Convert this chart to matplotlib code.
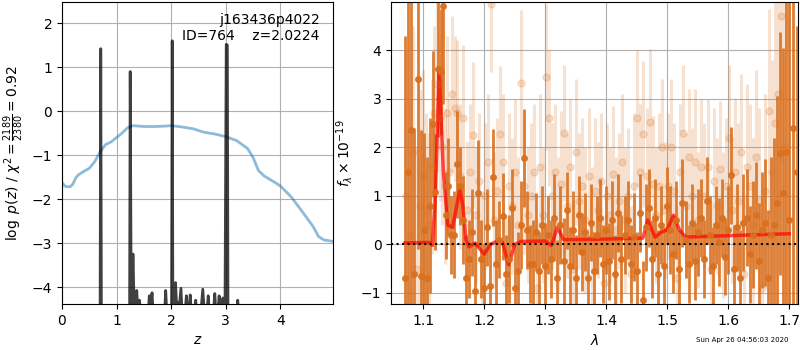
import numpy as np
import matplotlib
matplotlib.use('Agg')
import matplotlib.pyplot as plt

# ---- datos p(z) ----
z_chi2 = [0.0, 0.05, 0.1, 0.15, 0.2, 0.25, 0.3, 0.4, 0.5, 0.6, 0.7, 0.8, 0.9, 1.0, 1.1, 1.2,
          1.3, 1.5, 1.7, 1.9, 2.0, 2.2, 2.4, 2.6, 2.8, 3.0, 3.2, 3.4, 3.5, 3.6, 3.7,
          3.9, 4.0, 4.2, 4.4, 4.6, 4.7, 4.8, 4.95]
logchi2 = [-1.62, -1.70, -1.72, -1.72, -1.66, -1.52, -1.45, -1.37, -1.30, -1.15, -0.92, -0.76,
           -0.70, -0.60, -0.50, -0.38, -0.33, -0.35, -0.35, -0.34, -0.33, -0.36, -0.40, -0.48,
           -0.52, -0.58, -0.67, -0.85, -1.05, -1.35, -1.47, -1.62, -1.70, -1.95, -2.28, -2.62,
           -2.85, -2.93, -2.96]

z_pz = [0.0, 0.69, 0.71, 0.73, 1.23, 1.25, 1.27, 1.285, 1.30, 1.32, 1.34, 1.37, 1.39, 1.42, 1.44,
        1.58, 1.60, 1.63, 1.65, 1.67, 1.88, 1.90, 1.92, 2.00, 2.02, 2.04, 2.06, 2.08, 2.10, 2.12,
        2.14, 2.18, 2.20, 2.26, 2.28, 2.30, 2.33, 2.35, 2.37, 2.43, 2.45, 2.47, 2.55, 2.58, 2.61,
        2.66, 2.68, 2.70, 2.78, 2.80, 2.82, 2.86, 2.88, 2.90, 2.93, 2.95, 2.97, 3.01, 3.03, 3.05,
        3.20, 3.22, 3.24, 3.26, 4.95]
logpz = [-9, -9, 1.42, -9, -9, 0.90, -5.0, -4.3, -3.25, -4.3, -4.6, -4.08, -4.6, -4.3, -4.6,
         -4.6, -4.2, -4.4, -4.13, -4.6, -4.6, -4.08, -4.6, -9, 1.60, -9, -4.4, -3.9, -4.4, -4.35,
         -4.6, -4.03, -4.6, -4.5, -4.2, -4.6, -4.5, -4.18, -4.6, -4.5, -4.3, -4.6, -4.5, -4.05, -4.6,
         -4.5, -4.2, -4.6, -4.5, -4.15, -4.6, -4.5, -4.2, -4.6, -4.5, -4.25, -9, 1.52, 1.50, -9,
         -4.6, -4.3, -4.6, -9, -9]

# ---- espectro (puntos oscuros) ----
wave_a = [1.070, 1.075, 1.080, 1.085, 1.091, 1.096, 1.101, 1.106, 1.111, 1.116, 1.120, 1.125,
          1.129, 1.133, 1.137, 1.141, 1.145, 1.150, 1.155, 1.160, 1.165, 1.170, 1.175, 1.180,
          1.185, 1.190, 1.195, 1.200, 1.205, 1.210, 1.215, 1.220, 1.225, 1.230, 1.235, 1.240,
          1.245, 1.250, 1.255, 1.260, 1.265, 1.270, 1.275, 1.280, 1.285, 1.290, 1.295, 1.300,
          1.305, 1.310, 1.315, 1.320, 1.325, 1.330, 1.335, 1.340, 1.345, 1.350, 1.355, 1.360,
          1.365, 1.370, 1.375, 1.380, 1.385, 1.390, 1.395, 1.400, 1.405, 1.410, 1.415, 1.420,
          1.425, 1.430, 1.435, 1.440, 1.445, 1.450, 1.455, 1.460, 1.465, 1.470, 1.475, 1.480,
          1.485, 1.490, 1.495, 1.500, 1.505, 1.510, 1.515, 1.520, 1.525, 1.530, 1.535, 1.540,
          1.545, 1.550, 1.555, 1.560, 1.565, 1.570, 1.575, 1.580, 1.585, 1.590, 1.595, 1.600,
          1.605, 1.610, 1.615, 1.620, 1.625, 1.630, 1.635, 1.640, 1.645, 1.650, 1.655, 1.660,
          1.665, 1.670, 1.675, 1.680, 1.685, 1.690, 1.695, 1.700, 1.706, 1.712]
flux_a = [-0.70, 1.50, 2.35, -0.60, 3.40, -0.65, 0.30, -0.70, 0.80, 2.48, 1.08, 3.62,
          3.55, 4.90, 0.60, 1.20, 0.20, 0.20, 1.65, 1.20, 0.50, -0.70, -0.30, 0.25,
          -0.95, 1.05, -0.30, -0.90, 0.35, -0.85, 1.38, -0.40, 0.10, 0.58, -0.60, -0.30,
          0.75, -0.90, -0.55, 0.40, 1.78, 0.30, -0.40, -0.40, 0.25, -0.55, 0.40, -0.45,
          0.20, -0.30, 0.55, -0.70, 0.40, -0.35, 0.70, -0.45, 0.30, -0.70, 0.60, -0.15,
          0.25, -0.70, 0.45, -0.55, 0.20, 0.55, -0.40, 0.30, -0.35, 0.50, -0.60, 0.65,
          -0.30, 0.20, 0.50, -0.40, 0.15, -0.55, 0.65, -1.15, 0.35, 0.75, -0.30, 0.55,
          -0.60, 0.40, -0.45, 0.80, 0.30, -0.20, 0.50, -0.50, 0.85, 0.10, -0.40, 0.45,
          -0.35, 0.25, 0.55, -0.30, 0.90, 0.20, -0.45, 0.40, 0.05, 0.55, -0.25, 0.30,
          1.42, -0.50, 0.35, -0.70, 0.45, 0.55, -0.20, 0.20, 0.60, -0.35, 0.30, 0.45,
          -0.70, 0.20, 0.40, 0.85, 1.88, 1.05, 1.90, 0.50, 2.40, 1.50]
err_a = [5.0, 4.5, 4.0, 3.0, 3.5, 3.0, 2.0, 2.5, 1.8, 1.5, 1.2, 1.4,
         1.3, 2.0, 0.9, 1.0, 0.8, 0.9, 1.1, 0.8, 0.9, 0.9, 0.8, 0.9,
         1.0, 1.1, 0.8, 0.9, 0.8, 0.9, 1.0, 0.9, 0.8, 0.9, 0.8, 0.9,
         0.8, 0.9, 0.8, 0.9, 1.0, 0.8, 0.8, 0.9, 0.8, 0.8, 0.8, 0.9,
         0.8, 0.8, 0.9, 0.8, 0.8, 0.9, 0.8, 0.8, 0.8, 0.9, 0.8, 0.8,
         0.8, 0.9, 0.8, 0.8, 0.8, 0.8, 0.8, 0.9, 0.8, 0.8, 0.8, 0.8,
         0.9, 0.8, 0.8, 0.8, 0.9, 0.8, 0.8, 0.8, 0.9, 0.8, 0.8, 0.8,
         0.9, 0.8, 0.8, 0.8, 0.9, 0.8, 0.8, 0.8, 0.9, 0.8, 0.8, 0.8,
         0.8, 0.9, 0.8, 0.8, 0.9, 0.8, 0.8, 0.8, 0.9, 0.8, 0.8, 0.9,
         1.0, 0.9, 0.9, 1.0, 1.0, 1.0, 1.0, 1.1, 1.1, 1.2, 1.2, 1.3,
         1.4, 1.6, 1.8, 2.2, 2.5, 3.0, 3.5, 5.0, 4.0, 3.0]

# ---- espectro (puntos claros) ----
wave_b = [1.072, 1.078, 1.083, 1.089, 1.094, 1.099, 1.104, 1.109, 1.114, 1.118, 1.123, 1.127,
          1.131, 1.135, 1.139, 1.143, 1.147, 1.152, 1.156, 1.161, 1.166, 1.171, 1.176, 1.181,
          1.186, 1.191, 1.196, 1.201, 1.206, 1.211, 1.216, 1.221, 1.226, 1.231, 1.236, 1.241,
          1.246, 1.251, 1.256, 1.261, 1.266, 1.271, 1.276, 1.281, 1.286, 1.291, 1.296, 1.301,
          1.306, 1.311, 1.316, 1.321, 1.326, 1.331, 1.336, 1.341, 1.346, 1.351, 1.356, 1.361,
          1.366, 1.371, 1.376, 1.381, 1.386, 1.391, 1.396, 1.401, 1.406, 1.411, 1.416, 1.421,
          1.426, 1.431, 1.436, 1.441, 1.446, 1.451, 1.456, 1.461, 1.466, 1.471, 1.476, 1.481,
          1.486, 1.491, 1.496, 1.501, 1.506, 1.511, 1.516, 1.521, 1.526, 1.531, 1.536, 1.541,
          1.546, 1.551, 1.556, 1.561, 1.566, 1.571, 1.576, 1.581, 1.586, 1.591, 1.596, 1.601,
          1.606, 1.611, 1.616, 1.621, 1.626, 1.631, 1.636, 1.641, 1.646, 1.651, 1.656, 1.661,
          1.666, 1.671, 1.676, 1.681, 1.686, 1.691]
flux_b = [1.0, 0.2, 1.9, -0.5, 0.8, 1.4, 0.7, 0.4, 1.6, 2.7, 3.3, 2.6,
          2.0, 1.2, 2.7, 1.5, 3.1, 2.8, 2.7, 1.4, 2.6, 0.7, 1.5, 2.25,
          0.6, 1.3, -0.3, 1.0, 1.7, 4.95, 0.5, 1.1, 2.28, 1.7, -0.8, 1.2,
          0.8, 1.5, 0.4, 3.32, 1.2, 0.6, 1.0, 1.5, -0.9, 1.6, 0.6, 3.45,
          2.6, 1.0, 1.5, 0.4, 1.25, 2.3, 0.8, 1.6, -0.5, 1.9, 0.9, 1.2,
          0.5, 1.4, 0.2, 1.1, 0.7, 1.3, -0.8, 1.0, 0.6, 1.45, 0.3, 0.9,
          1.7, 0.5, 1.0, -0.6, 1.2, 2.6, 1.5, 2.28, 1.4, 2.52, 1.25, 0.6,
          1.2, 2.0, 0.7, 1.2, 2.0, 1.1, -0.7, 1.5, 2.3, 0.8, 1.8, 1.0,
          1.7, 0.5, 1.6, 1.0, 1.6, -0.5, 1.3, 0.8, 1.55, 0.4, 1.2, 2.2,
          0.7, 1.5, 0.9, 1.9, -0.6, 1.6, 1.2, 0.4, 1.8, 0.9, -0.9, 1.1,
          2.75, 1.5, 2.5, 3.1, 4.7, 2.0]
err_b = [3.0, 2.8, 2.6, 2.5, 2.4, 2.2, 2.0, 1.9, 1.8, 1.8, 1.8, 1.7,
         1.6, 1.6, 1.6, 1.5, 1.6, 1.5, 1.5, 1.5, 1.5, 1.4, 1.4, 1.5,
         1.4, 1.4, 1.4, 1.5, 1.4, 1.4, 1.4, 1.5, 1.4, 1.4, 1.4, 1.5,
         1.4, 1.5, 1.4, 1.5, 1.4, 1.4, 1.5, 1.4, 1.4, 1.5, 1.4, 1.5,
         1.4, 1.5, 1.4, 1.4, 1.5, 1.4, 1.5, 1.4, 1.4, 1.5, 1.4, 1.4,
         1.5, 1.4, 1.4, 1.5, 1.4, 1.4, 1.4, 1.5, 1.4, 1.4, 1.5, 1.4,
         1.4, 1.5, 1.4, 1.4, 1.5, 1.4, 1.4, 1.5, 1.4, 1.5, 1.4, 1.4,
         1.5, 1.4, 1.4, 1.5, 1.4, 1.4, 1.5, 1.4, 1.4, 1.5, 1.4, 1.4,
         1.5, 1.4, 1.4, 1.5, 1.4, 1.4, 1.5, 1.4, 1.4, 1.5, 1.4, 1.5,
         1.5, 1.5, 1.6, 1.6, 1.6, 1.7, 1.7, 1.8, 1.8, 1.9, 1.9, 2.0,
         2.1, 2.3, 2.5, 2.8, 3.0, 3.2]

# ---- modelo ----
wave_m = [1.070, 1.110, 1.115, 1.120, 1.126, 1.133, 1.140, 1.148, 1.155, 1.160, 1.165, 1.170,
          1.175, 1.185, 1.190, 1.200, 1.210, 1.220, 1.230, 1.240, 1.250, 1.260, 1.300, 1.310,
          1.320, 1.330, 1.350, 1.400, 1.460, 1.468, 1.480, 1.490, 1.500, 1.510, 1.520, 1.530,
          1.550, 1.600, 1.650, 1.700]
flux_m = [0.03, 0.04, -0.02, 1.00, 3.62, 1.50, 0.40, 0.35, 0.80, 1.15, 0.80, 0.10,
          -0.05, 0.03, -0.05, -0.20, 0.00, 0.06, 0.04, -0.42, 0.00, 0.06, 0.07, -0.02,
          0.35, 0.10, 0.10, 0.11, 0.13, 0.50, 0.15, 0.25, 0.30, 0.60, 0.30, 0.15,
          0.16, 0.18, 0.20, 0.22]

naranja = (0.85, 0.44, 0.12)

fig = plt.figure(figsize=(8, 3.5), dpi=100)
ax1 = fig.add_axes([0.0775, 0.131, 0.339, 0.863])
ax2 = fig.add_axes([0.489, 0.131, 0.509, 0.863])

# panel izquierdo
ax1.plot(z_chi2, logchi2, color='#1f77b4', alpha=0.5, lw=2)
ax1.plot(z_pz, logpz, color='k', alpha=0.75, lw=2)
ax1.set_xlim(0, 4.97)
ax1.set_ylim(-4.39, 2.48)
ax1.set_xticks([0, 1, 2, 3, 4])
ax1.set_yticks([-4, -3, -2, -1, 0, 1, 2])
ax1.grid()
ax1.set_xlabel(r'$z$')
ax1.set_ylabel(r'$\log\ p(z)$ / $\chi^2=\frac{2189}{2380}=0.92$')
ax1.text(0.95, 0.965, 'j163436p4022\nID=764    z=2.0224', ha='right', va='top',
         transform=ax1.transAxes)

# panel derecho
ax2.errorbar(wave_b, flux_b, yerr=err_b, color=naranja, alpha=0.2, marker='o', ms=5,
             linestyle='None', elinewidth=2.2)
ax2.errorbar(wave_a, flux_a, yerr=err_a, color=naranja, alpha=0.9, marker='o', ms=4,
             linestyle='None', elinewidth=2.0)
ax2.plot(wave_m, flux_m, color='r', alpha=0.7, lw=2.5)
ax2.axhline(0, color='k', linestyle=':', lw=1.5)
ax2.set_xlim(1.0475, 1.715)
ax2.set_ylim(-1.23, 4.99)
ax2.set_xticks([1.1, 1.2, 1.3, 1.4, 1.5, 1.6, 1.7])
ax2.set_yticks([-1, 0, 1, 2, 3, 4])
ax2.grid()
ax2.set_xlabel(r'$\lambda$')
ax2.set_ylabel(r'$f_\lambda\times10^{-19}$')

fig.text(0.985, 0.022, 'Sun Apr 26 04:56:03 2020', ha='right', fontsize=5)

plt.savefig('out.png', dpi=100)
